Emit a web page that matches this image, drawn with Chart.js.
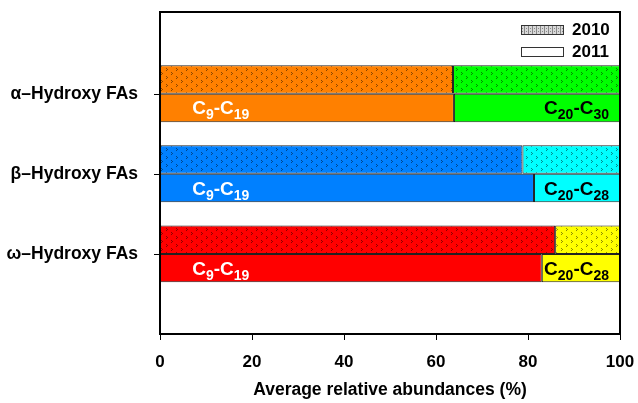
<!DOCTYPE html>
<html>
<head>
<meta charset="utf-8">
<script src="https://cdn.jsdelivr.net/npm/chart.js@4"></script>
<style>
html,body{margin:0;padding:0;background:#fff;}
#wrap{width:638px;height:403px;}
</style>
</head>
<body>
<div id="wrap"><canvas id="c" width="638" height="403"></canvas></div>
<script>
// ---- data ----
const categories = ['α–Hydroxy FAs', 'β–Hydroxy FAs', 'ω–Hydroxy FAs'];
const years = ['2010', '2011'];
const short2010 = [63.7, 78.8, 85.9];
const long2010  = [36.3, 21.2, 14.1];
const short2011 = [63.9, 81.3, 83.0];
const long2011  = [36.1, 18.7, 17.0];
const shortLabels = ['C9-C19', 'C9-C19', 'C9-C19'];
const longLabels  = ['C20-C30', 'C20-C28', 'C20-C28'];
const xTicks = [0, 20, 40, 60, 80, 100];

// ---- styles ----
const shortColors = ['#FF8000', '#0080FF', '#FF0000'];
const longColors  = ['#00FF00', '#00FFFF', '#FFFF00'];
const FONT = "'Liberation Sans', Arial, sans-serif";

function makePattern(base) {
  const t = document.createElement('canvas');
  t.width = 10; t.height = 8;
  const g = t.getContext('2d');
  g.fillStyle = base; g.fillRect(0, 0, 10, 8);
  g.fillStyle = 'rgba(0,0,0,0.45)';
  const marks = [[1,0],[6,4]];
  marks.forEach(([x,y]) => {
    g.fillRect(x, y, 1, 1); g.fillRect(x+1, y+1, 1, 1); g.fillRect(x, y+2, 1, 1);
  });
  return document.getElementById('c').getContext('2d').createPattern(t, 'repeat');
}
function makeLegendPattern() {
  const t = document.createElement('canvas');
  t.width = 4; t.height = 3;
  const g = t.getContext('2d');
  g.fillStyle = '#d8d8d8'; g.fillRect(0, 0, 4, 3);
  g.fillStyle = '#888'; g.fillRect(0, 0, 1, 3); g.fillRect(2, 1, 1, 1);
  return document.getElementById('c').getContext('2d').createPattern(t, 'repeat');
}

const toPts = arr => arr.map((v, i) => ({x: v, y: i + 1}));

function drawChem(ctx, text, x, y, align, color) {
  const parts = text.match(/(\d+|[^\d]+)/g).map(s => ({s, sub: /^\d+$/.test(s)}));
  const big = 'bold 19px ' + FONT, small = 'bold 14px ' + FONT;
  let w = 0;
  parts.forEach(p => { ctx.font = p.sub ? small : big; p.w = ctx.measureText(p.s).width; w += p.w; });
  let cx = align === 'right' ? x - w : x;
  ctx.fillStyle = color; ctx.textAlign = 'left'; ctx.textBaseline = 'alphabetic';
  parts.forEach(p => {
    ctx.font = p.sub ? small : big;
    ctx.fillText(p.s, cx, p.sub ? y + 5 : y);
    cx += p.w;
  });
}

const decor = {
  id: 'decor',
  afterDatasetsDraw(chart) {
    const ctx = chart.ctx, ca = chart.chartArea, xs = chart.scales.x, ys = chart.scales.y;
    ctx.save();
    const meta = chart.getDatasetMeta(2);
    meta.data.forEach((el, i) => {
      const base = el.y + 6.5;
      drawChem(ctx, shortLabels[i], xs.getPixelForValue(7), base, 'left', '#fff');
      drawChem(ctx, longLabels[i], xs.getPixelForValue(100) - 11, base, 'right', '#000');
    });
    // tick marks
    ctx.strokeStyle = '#000'; ctx.lineWidth = 1;
    ctx.beginPath();
    ys.ticks.forEach(t => {
      const py = Math.round(ys.getPixelForValue(t.value)) + 0.5;
      ctx.moveTo(ca.left - 6, py); ctx.lineTo(ca.left, py);
    });
    xs.ticks.forEach(t => {
      const px = Math.round(xs.getPixelForValue(t.value)) + 0.5;
      ctx.moveTo(px, ca.bottom); ctx.lineTo(px, ca.bottom + 6);
    });
    ctx.stroke();
    // frame
    ctx.strokeStyle = '#000'; ctx.lineWidth = 2;
    ctx.strokeRect(ca.left, ca.top, ca.right - ca.left, ca.bottom - ca.top);
    // legend
    const lx = ca.right - 99, lw = 42, lh = 9;
    ctx.lineWidth = 1; ctx.strokeStyle = '#333';
    ctx.fillStyle = makeLegendPattern();
    ctx.fillRect(lx, ca.top + 13, lw, lh); ctx.strokeRect(lx + 0.5, ca.top + 13.5, lw, lh);
    ctx.fillStyle = '#fff';
    ctx.fillRect(lx, ca.top + 35, lw, lh); ctx.strokeRect(lx + 0.5, ca.top + 35.5, lw, lh);
    ctx.fillStyle = '#000'; ctx.font = 'bold 17px ' + FONT; ctx.textAlign = 'left'; ctx.textBaseline = 'middle';
    ctx.fillText(years[0], lx + 51, ca.top + 18.5);
    ctx.fillText(years[1], lx + 51, ca.top + 40.5);
    ctx.restore();
  }
};

const bar = {borderColor: '#222', borderWidth: 1, borderSkipped: false, categoryPercentage: 0.71, barPercentage: 1};
new Chart(document.getElementById('c'), {
  type: 'bar',
  data: {
    datasets: [
      Object.assign({label: years[0], data: toPts(short2010), stack: years[0], backgroundColor: shortColors.map(makePattern)}, bar),
      Object.assign({label: years[0], data: toPts(long2010),  stack: years[0], backgroundColor: longColors.map(makePattern)}, bar),
      Object.assign({label: years[1], data: toPts(short2011), stack: years[1], backgroundColor: shortColors}, bar),
      Object.assign({label: years[1], data: toPts(long2011),  stack: years[1], backgroundColor: longColors}, bar)
    ]
  },
  options: {
    indexAxis: 'y',
    responsive: false,
    animation: false,
    layout: {padding: {top: 12, right: 18, left: 0, bottom: 0}},
    plugins: {legend: {display: false}, tooltip: {enabled: false}},
    scales: {
      x: {
        type: 'linear', min: 0, max: 100, stacked: true,
        afterBuildTicks: s => { s.ticks = xTicks.map(v => ({value: v})); },
        afterFit: s => { s.height = 69; s.paddingLeft = 0; s.paddingRight = 0; s.paddingTop = 0; s.paddingBottom = 0; },
        grid: {display: false, drawTicks: false, tickLength: 0},
        border: {display: false},
        ticks: {color: '#000', font: {family: FONT, size: 17, weight: 'bold'}, padding: 18, maxRotation: 0},
        title: {display: true, text: 'Average relative abundances (%)', color: '#000',
                font: {family: FONT, size: 17.5, weight: 'bold'}, padding: {top: 0, bottom: 2}}
      },
      y: {
        type: 'linear', min: -0.02, max: 4, reverse: true, offset: false,
        afterBuildTicks: s => { s.ticks = categories.map((c, i) => ({value: i + 1})); },
        afterFit: s => { s.width = 160; s.paddingLeft = 0; s.paddingRight = 0; s.paddingTop = 0; s.paddingBottom = 0; },
        grid: {display: false, drawTicks: false, tickLength: 0},
        border: {display: false},
        ticks: {color: '#000', font: {family: FONT, size: 17.5, weight: 'bold'}, padding: 22,
                callback: v => categories[v - 1]}
      }
    }
  },
  plugins: [decor]
});
</script>
</body>
</html>
